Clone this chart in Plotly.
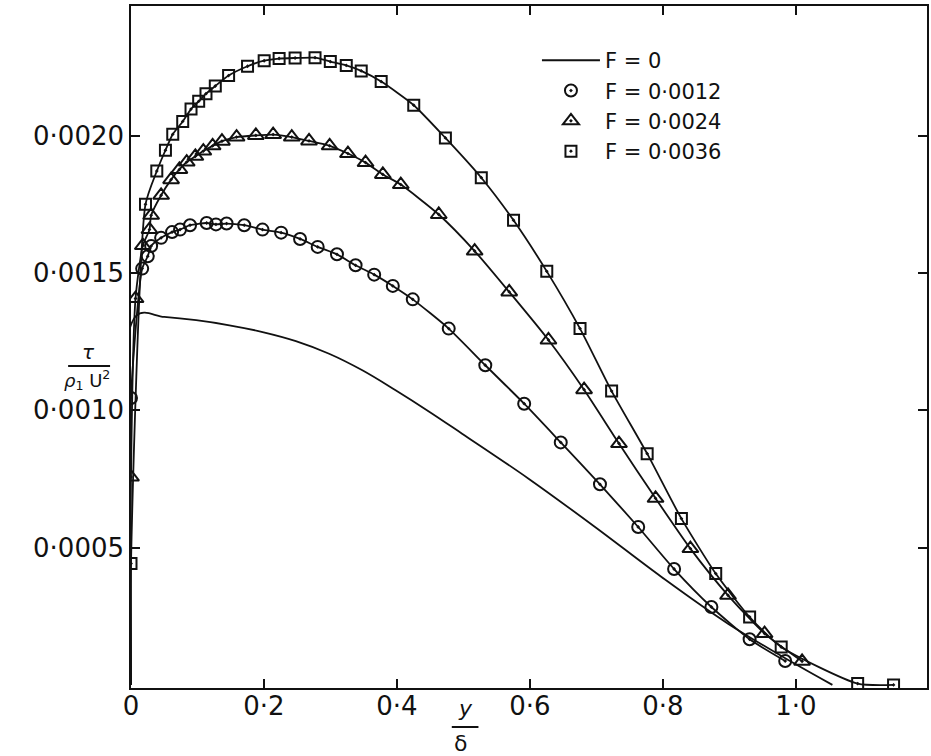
import plotly.graph_objects as go

# ---- data (y in units of tau / (rho1 U^2)) ----
x_f0 = [0.0, 0.008, 0.05, 0.098, 0.148, 0.198, 0.248, 0.298, 0.348, 0.398, 0.448, 0.498, 0.598,
        0.698, 0.798, 0.898, 0.998, 1.055]
y_f0 = [0.0, 0.001345, 0.001340, 0.001328, 0.0013095, 0.001285, 0.001252, 0.001206, 0.0011457,
        0.001073, 0.000996, 0.000915, 0.000751, 0.000575, 0.000393, 0.000223, 0.0000776, 0.0]

x_f12 = [0.0, 0.0168, 0.0252, 0.0303, 0.0453, 0.0618, 0.0738, 0.0888, 0.1138, 0.1278, 0.1438,
         0.1703, 0.1978, 0.2258, 0.2543, 0.2808, 0.3098, 0.3378, 0.3658, 0.3938, 0.4238, 0.4779,
         0.5329, 0.5914, 0.6464, 0.7054, 0.7629, 0.8169, 0.873, 0.9305, 0.984]
y_f12 = [0.001045, 0.001516, 0.001561, 0.001598, 0.001628, 0.001649, 0.001658, 0.001674, 0.001682,
         0.001677, 0.001680, 0.001674, 0.001658, 0.001647, 0.001624, 0.001595, 0.001568, 0.001528,
         0.001494, 0.001453, 0.001404, 0.0012975, 0.001164, 0.001024, 0.000883, 0.0007305, 0.000575,
         0.000422, 0.0002837, 0.000166, 0.000087]

x_f24 = [0.0, 0.0068, 0.0178, 0.0278, 0.0303, 0.0453, 0.0603, 0.0728, 0.0838, 0.0968, 0.1088, 0.1228,
         0.1368, 0.1588, 0.1878, 0.2138, 0.2418, 0.2678, 0.2988, 0.3263, 0.3528, 0.3788, 0.4058,
         0.4629, 0.5169, 0.5689, 0.6279, 0.6815, 0.734, 0.789, 0.8414, 0.898, 0.953, 1.0094]
y_f24 = [0.000757, 0.001407, 0.00160, 0.001658, 0.001710, 0.001783, 0.001840, 0.001877, 0.001904,
         0.001925, 0.001944, 0.001963, 0.001980, 0.001995, 0.002001, 0.002004, 0.001995, 0.001981,
         0.001963, 0.001935, 0.001902, 0.001859, 0.001822, 0.001713, 0.001580, 0.001431, 0.001256,
         0.001075, 0.000879, 0.0006795, 0.0004963, 0.0003263, 0.0001868, 0.000086]

x_f36 = [0.0, 0.0218, 0.0388, 0.0518, 0.0628, 0.0778, 0.0903, 0.1018, 0.1128, 0.1268, 0.1468, 0.1753,
         0.2003, 0.2228, 0.2468, 0.2768, 0.2998, 0.3238, 0.3463, 0.3763, 0.4253, 0.4729, 0.5269,
         0.5754, 0.6254, 0.6754, 0.7229, 0.7764, 0.8279, 0.8795, 0.9305, 0.978, 1.093, 1.147]
y_f36 = [0.000442, 0.001750, 0.001871, 0.001947, 0.002005, 0.002052, 0.002097, 0.002125, 0.002153,
         0.002181, 0.002219, 0.002253, 0.002273, 0.002281, 0.002283, 0.002284, 0.002270, 0.002256,
         0.002236, 0.002197, 0.002111, 0.001992, 0.001847, 0.001692, 0.001506, 0.0012975, 0.001070,
         0.000842, 0.0006056, 0.0004053, 0.0002473, 0.000138, 0.0000047, 0.0]

x_tickvals = [0, 0.2, 0.4, 0.6, 0.8, 1.0]
x_ticktext = ["0", "0·2", "0·4", "0·6", "0·8", "1·0"]
y_tickvals = [0.0005, 0.0010, 0.0015, 0.0020]
y_ticktext = ["0·0005", "0·0010", "0·0015", "0·0020"]

FONT = "DejaVu Sans"
BLACK = "#111111"

fig = go.Figure()

# F = 0 solid curve
fig.add_trace(go.Scatter(x=x_f0, y=y_f0, mode="lines", name="F = 0",
                         line=dict(color=BLACK, width=1.8, shape="spline", smoothing=1.0)))

series = [
    (x_f12, y_f12, "circle-open-dot", 12, "F = 0·0012"),
    (x_f24, y_f24, "triangle-up-open-dot", 14, "F = 0·0024"),
    (x_f36, y_f36, "square-open-dot", 11, "F = 0·0036"),
]
for xs, ys, sym, sz, name in series:
    # curve through the points, starting from the wall
    fig.add_trace(go.Scatter(x=[0.0] + xs, y=[0.0] + ys, mode="lines", showlegend=False,
                             hoverinfo="skip",
                             line=dict(color=BLACK, width=1.8, shape="spline", smoothing=0.6)))
    fig.add_trace(go.Scatter(x=xs, y=ys, mode="markers", name=name,
                             marker=dict(symbol=sym, size=sz, color=BLACK,
                                         line=dict(color=BLACK, width=2))))

axis_common = dict(showgrid=False, zeroline=False, showline=True, linecolor=BLACK, linewidth=1.5,
                   mirror="ticks", ticks="inside", ticklen=9, tickwidth=1.5, tickcolor=BLACK,
                   tickfont=dict(family=FONT, size=26, color=BLACK))

fig.update_xaxes(range=[0, 1.1973], tickmode="array", tickvals=x_tickvals, ticktext=x_ticktext,
                 ticklabelstandoff=-6, **axis_common)
fig.update_yaxes(range=[-0.0000113, 0.0024723], tickmode="array", tickvals=y_tickvals,
                 ticktext=y_ticktext, **axis_common)

fig.update_layout(
    width=931, height=756,
    margin=dict(l=131, r=2, t=6, b=68),
    paper_bgcolor="white", plot_bgcolor="white",
    font=dict(family=FONT, color=BLACK),
    legend=dict(x=0.51, y=0.95, xanchor="left", yanchor="top", bgcolor="rgba(0,0,0,0)",
                font=dict(family=FONT, size=21, color=BLACK), itemwidth=58, tracegroupgap=0),
    showlegend=True,
)

# axis label fractions
fig.add_annotation(xref="paper", yref="paper", x=-0.064, y=0.4927, text="<i>τ</i>",
                   showarrow=False, font=dict(family=FONT, size=20, color=BLACK))
fig.add_annotation(xref="paper", yref="paper", x=-0.0238, y=0.4516, xanchor="right",
                   text="<i>ρ</i><sub>1</sub> U<sup>2</sup>",
                   showarrow=False, font=dict(family=FONT, size=18, color=BLACK))
fig.add_shape(type="line", xref="paper", yref="paper", x0=-0.079, x1=-0.0263, y0=0.472, y1=0.472,
              line=dict(color=BLACK, width=2))

fig.add_annotation(xref="paper", yref="paper", x=0.4198, y=-0.051, text="<i>y</i>",
                   showarrow=False, font=dict(family=FONT, size=22, color=BLACK))
fig.add_annotation(xref="paper", yref="paper", x=0.4144, y=-0.103, text="δ",
                   showarrow=False, font=dict(family=FONT, size=22, color=BLACK))
fig.add_shape(type="line", xref="paper", yref="paper", x0=0.403, x1=0.4365, y0=-0.0572, y1=-0.0572,
              line=dict(color=BLACK, width=2))

fig.write_html("out.html", config={"displayModeBar": False},
               post_script="document.body.style.margin='0';document.body.style.overflow='hidden';")
